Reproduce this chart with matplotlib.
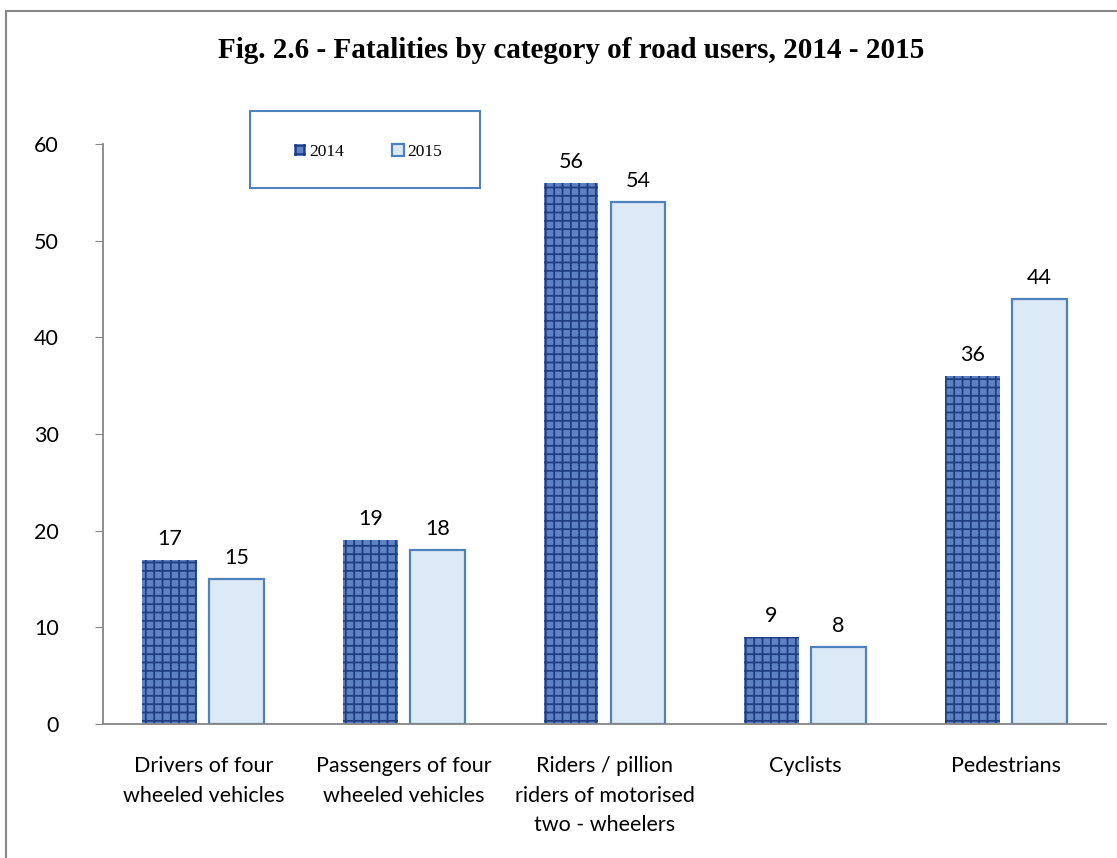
import matplotlib
matplotlib.use("Agg")
import matplotlib.pyplot as plt
from matplotlib.patches import Rectangle
import numpy as np

categories = ["Drivers of four\nwheeled vehicles", "Passengers of four\nwheeled vehicles",
              "Riders / pillion\nriders of motorised\ntwo - wheelers", "Cyclists", "Pedestrians"]
y2014 = [17, 19, 56, 9, 36]
y2015 = [15, 18, 54, 8, 44]
yticks = [0, 10, 20, 30, 40, 50, 60]

plt.rcParams["hatch.linewidth"] = 1.3

fig = plt.figure(figsize=(11.17, 8.58), dpi=100)
ax = fig.add_axes([103/1117, 1-724/858, (1106-103)/1117, (724-144)/858])

x = np.arange(len(categories))
w = 0.273
b1 = ax.bar(x - 0.167, y2014, w, color="#5f82c4", edgecolor="#1f3f80", linewidth=0, hatch="++", label="2014")
b2 = ax.bar(x + 0.167, y2015, w, color="#dce9f7", edgecolor="#4f81bd", linewidth=1.6, label="2015")

for bars in (b1, b2):
    for r in bars:
        ax.annotate(str(int(r.get_height())), (r.get_x() + r.get_width()/2, r.get_height()),
                    xytext=(0, 8), textcoords="offset points", ha="center", va="bottom",
                    fontsize=15.5, family="Lato", color="black")

ax.set_xlim(-0.5, 4.5)
ax.set_ylim(0, 60)
ax.set_yticks(yticks)
ax.set_xticks(x)
ax.set_xticklabels(categories, fontsize=15.5, family="Lato", linespacing=1.6)
for lab in ax.get_yticklabels():
    lab.set_fontsize(15.5)
    lab.set_family("Lato")
ax.tick_params(axis="y", length=6, color="#868686", pad=26)
ax.tick_params(axis="x", length=0, pad=23)
for s in ["top", "right"]:
    ax.spines[s].set_visible(False)
for s in ["left", "bottom"]:
    ax.spines[s].set_color("#868686")
    ax.spines[s].set_linewidth(1.3)

fig.text(0.511, 1-50/858, "Fig. 2.6 - Fatalities by category of road users, 2014 - 2015",
         ha="center", va="center", fontsize=21, fontweight="bold", family="Liberation Serif")

# legend box
fig.patches.append(Rectangle((250/1117, 1-188/858), 230/1117, 77/858, transform=fig.transFigure,
                             fill=False, edgecolor="#4f81bd", linewidth=1.5))
leg = fig.legend(handles=[b1, b2], labels=["2014", "2015"], loc="center",
                 bbox_to_anchor=(368/1117, 1-152/858), ncol=2, frameon=False,
                 handlelength=0.7, handleheight=0.7, handletextpad=0.2, columnspacing=2.7,
                 prop={"family": "Liberation Serif", "size": 12.5})

# outer chart border
fig.patches.append(Rectangle((6/1117, -0.05), 1.2, 1-11/858+0.05, transform=fig.transFigure,
                             fill=False, edgecolor="#878787", linewidth=1.5))

fig.savefig("out.png", dpi=100)
